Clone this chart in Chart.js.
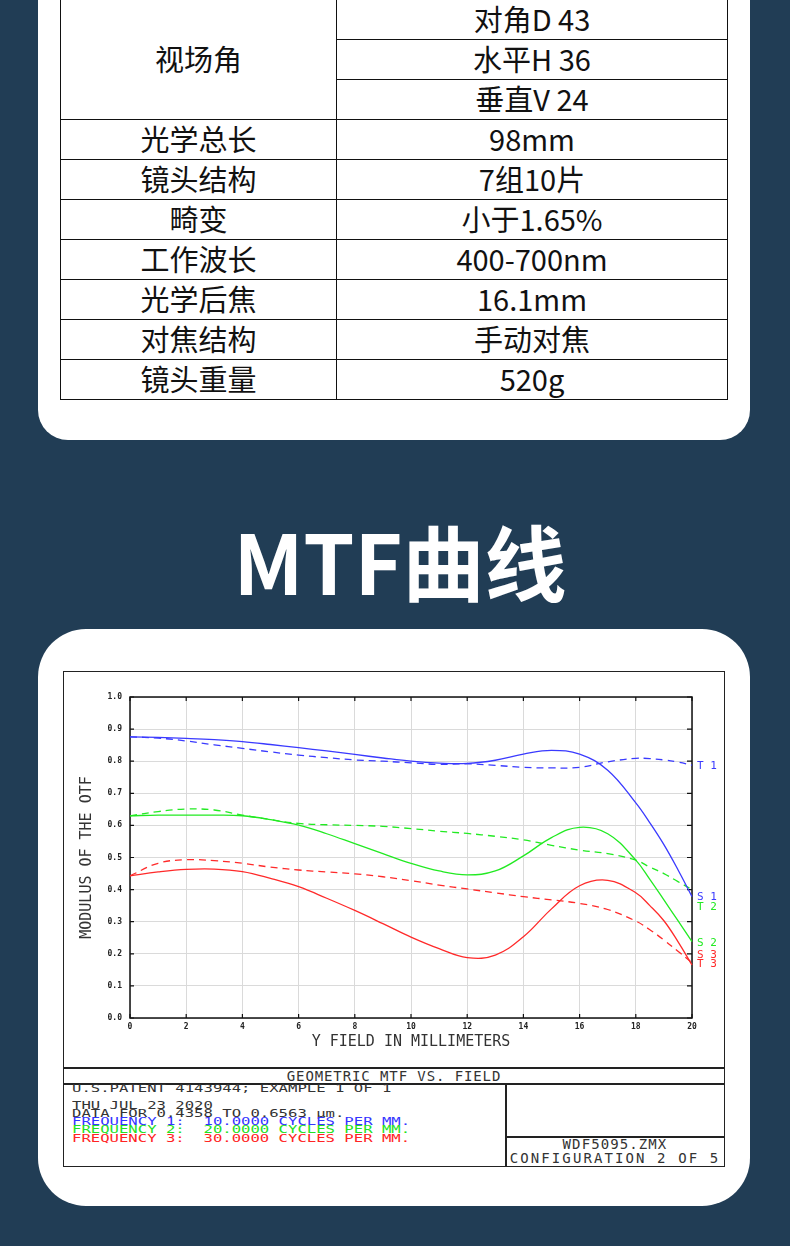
<!DOCTYPE html>
<html>
<head>
<meta charset="utf-8">
<script src="https://cdn.jsdelivr.net/npm/chart.js@4.4.1/dist/chart.umd.min.js"></script>
<style>
  body { margin: 0; width: 790px; height: 1246px; background: #213d55; position: relative; overflow: hidden; font-family: "Noto Sans CJK SC", sans-serif; }
  .card { position: absolute; left: 38px; width: 712px; background: #fff; }
  #card1 { top: -40px; height: 480px; border-radius: 30px; }
  #card2 { top: 629px; height: 577px; border-radius: 48px; }
  #specs { position: absolute; left: 60px; top: -1px; width: 667px; border-collapse: collapse; table-layout: fixed; }
  #specs td { border: 1px solid #111; height: 36px; padding: 0 0 3px 0; text-align: center; font-size: 29px; line-height: 32px; color: #111; }
  h1 { position: absolute; left: 0; width: 790px; top: 502px; margin: 0; text-align: center; color: #fff; font-size: 82px; font-weight: 700; line-height: 116px; padding-left: 10px; box-sizing: border-box; }
  #frame { position: absolute; left: 63px; top: 671px; width: 662px; height: 496px; border: 1.5px solid #222; box-sizing: border-box; }
  .ln { position: absolute; background: #222; }
  .mono { position: absolute; font-family: "DejaVu Sans Mono", monospace; color: #333; white-space: pre; }
  #info { left: 72px; top: 1085px; font-size: 10px; line-height: 8.3px; transform: scaleX(1.56); transform-origin: left top; }
  canvas { position: absolute; left: 64px; top: 672px; }
</style>
</head>
<body>
<div class="card" id="card1"></div>
<table id="specs"></table>
<h1>MTF曲线</h1>
<div class="card" id="card2"></div>
<div id="frame"></div>
<canvas id="mtf" width="660" height="395"></canvas>
<div class="ln" style="left:63px;top:1067px;width:662px;height:1.5px"></div>
<div class="ln" style="left:63px;top:1083px;width:662px;height:1.5px"></div>
<div class="ln" style="left:505px;top:1083px;width:1.5px;height:84px"></div>
<div class="ln" style="left:505px;top:1136px;width:220px;height:1.5px"></div>
<div class="mono" style="left:63px;width:662px;top:1068px;text-align:center;font-size:14px;line-height:16px;letter-spacing:0.9px">GEOMETRIC MTF VS. FIELD</div>
<div class="mono" id="info"></div>
<div class="mono" style="left:505px;width:220px;top:1137px;text-align:center;font-size:14px;line-height:15px;letter-spacing:1.1px">WDF5095.ZMX</div>
<div class="mono" style="left:505px;width:220px;top:1151px;text-align:center;font-size:14px;line-height:15px;letter-spacing:2.1px">CONFIGURATION 2 OF 5</div>
<script>
// spec table
const specNames = ["视场角", "光学总长", "镜头结构", "畸变", "工作波长", "光学后焦", "对焦结构", "镜头重量"];
const specValues = ["对角D 43", "水平H 36", "垂直V 24", "98mm", "7组10片", "小于1.65%", "400-700nm", "16.1mm", "手动对焦", "520g"];

// MTF data (Y field in mm)
const fieldMm = [0, 1, 2, 3, 4, 5, 6, 7, 8, 9, 10, 11, 12, 13, 14, 15, 16, 17, 18, 18.5, 19, 19.5, 20];
const mtfS1 = [0.876, 0.874, 0.871, 0.867, 0.861, 0.852, 0.842, 0.832, 0.821, 0.810, 0.800, 0.794, 0.793, 0.803, 0.822, 0.834, 0.822, 0.772, 0.670, 0.608, 0.540, 0.462, 0.378];
const mtfT1 = [0.876, 0.872, 0.863, 0.851, 0.840, 0.829, 0.819, 0.811, 0.804, 0.800, 0.795, 0.790, 0.792, 0.787, 0.781, 0.779, 0.781, 0.798, 0.809, 0.808, 0.804, 0.797, 0.788];
const mtfS2 = [0.630, 0.632, 0.632, 0.632, 0.630, 0.618, 0.601, 0.574, 0.543, 0.512, 0.482, 0.458, 0.446, 0.458, 0.505, 0.562, 0.594, 0.574, 0.492, 0.432, 0.368, 0.303, 0.238];
const mtfT2 = [0.630, 0.643, 0.651, 0.648, 0.632, 0.618, 0.606, 0.602, 0.600, 0.597, 0.590, 0.582, 0.575, 0.566, 0.555, 0.538, 0.523, 0.512, 0.492, 0.470, 0.450, 0.425, 0.400];
const mtfS3 = [0.443, 0.455, 0.463, 0.464, 0.456, 0.435, 0.409, 0.373, 0.335, 0.294, 0.252, 0.216, 0.188, 0.196, 0.253, 0.340, 0.412, 0.429, 0.390, 0.350, 0.303, 0.238, 0.165];
const mtfT3 = [0.443, 0.482, 0.493, 0.490, 0.482, 0.470, 0.461, 0.455, 0.449, 0.440, 0.428, 0.414, 0.402, 0.390, 0.378, 0.368, 0.357, 0.338, 0.302, 0.275, 0.243, 0.208, 0.172];

const endLabels = ["T 1", "S 1", "T 2", "S 2", "S 3", "T 3"];
const endLabelAt = [0.785, 0.377, 0.344, 0.234, 0.197, 0.168];

const infoLines = [
  ["U.S.PATENT 4143944; EXAMPLE 1 OF 1", "#333"],
  ["", "#333"],
  ["THU JUL 23 2020", "#333"],
  ["DATA FOR 0.4358 TO 0.6563 µm.", "#333"],
  ["FREQUENCY 1:  10.0000 CYCLES PER MM.", "#3535ff"],
  ["FREQUENCY 2:  20.0000 CYCLES PER MM.", "#22e022"],
  ["FREQUENCY 3:  30.0000 CYCLES PER MM.", "#ff2424"],
];

const blue = "#3a3aff", green = "#22ea22", red = "#ff2a2a";
const labelColors = { T1: blue, S1: blue, T2: green, S2: green, S3: red, T3: red };

// build table
const tbl = document.getElementById("specs");
tbl.innerHTML = '<colgroup><col style="width:276px"><col style="width:391px"></colgroup>';
for (let i = 0; i < specValues.length; i++) {
  const tr = document.createElement("tr");
  if (i === 0) {
    const td = document.createElement("td");
    td.rowSpan = 3;
    td.textContent = specNames[0];
    tr.appendChild(td);
  } else if (i >= 3) {
    const td = document.createElement("td");
    td.textContent = specNames[i - 2];
    tr.appendChild(td);
  }
  const tv = document.createElement("td");
  tv.textContent = specValues[i];
  tr.appendChild(tv);
  tbl.appendChild(tr);
}

document.getElementById("info").innerHTML = infoLines
  .map(l => `<div style="color:${l[1]};height:8.3px">${l[0]}</div>`).join("");

function pts(arr) {
  return fieldMm.map((x, i) => ({ x: x, y: arr[i] }));
}

function series(label, arr, color, dashed) {
  return {
    label: label,
    data: pts(arr),
    borderColor: color,
    borderWidth: 1.3,
    borderDash: dashed ? [7, 5] : [],
    pointRadius: 0,
    tension: 0.4,
    clip: 3,
  };
}

const plotFrame = {
  id: "plotFrame",
  beforeDatasetsDraw(chart) {
    const { ctx, chartArea: a, scales } = chart;
    const x = scales.x, y = scales.y;
    ctx.save();
    ctx.strokeStyle = "#111";
    ctx.lineWidth = 1.5;
    ctx.strokeRect(a.left, a.top, a.right - a.left, a.bottom - a.top);
    ctx.lineWidth = 1.2;
    ctx.beginPath();
    x.ticks.forEach(t => {
      const px = x.getPixelForValue(t.value);
      ctx.moveTo(px, a.top); ctx.lineTo(px, a.top + 4);
      ctx.moveTo(px, a.bottom); ctx.lineTo(px, a.bottom - 4);
    });
    y.ticks.forEach(t => {
      const py = y.getPixelForValue(t.value);
      ctx.moveTo(a.left, py); ctx.lineTo(a.left + 4, py);
      ctx.moveTo(a.right, py); ctx.lineTo(a.right - 5, py);
    });
    ctx.stroke();
    ctx.restore();
  },
  afterDatasetsDraw(chart) {
    const { ctx, chartArea: a, scales } = chart;
    ctx.save();
    ctx.font = "11px 'DejaVu Sans Mono'";
    ctx.textBaseline = "middle";
    endLabels.forEach((t, i) => {
      ctx.fillStyle = labelColors[t.replace(" ", "")];
      ctx.fillText(t, a.right + 5, scales.y.getPixelForValue(endLabelAt[i]));
    });
    ctx.restore();
  },
};

const tickFont = { family: "DejaVu Sans Mono", size: 8, weight: "bold" };
const titleFont = { family: "DejaVu Sans Mono", size: 15 };

new Chart(document.getElementById("mtf"), {
  type: "line",
  data: {
    datasets: [
      series("T1", mtfT1, blue, true),
      series("S1", mtfS1, blue, false),
      series("T2", mtfT2, green, true),
      series("S2", mtfS2, green, false),
      series("T3", mtfT3, red, true),
      series("S3", mtfS3, red, false),
    ],
  },
  plugins: [plotFrame],
  options: {
    responsive: false,
    animation: false,
    devicePixelRatio: 1,
    layout: { padding: { top: 25, right: 32, left: 10, bottom: 12 } },
    plugins: { legend: { display: false }, tooltip: { enabled: false } },
    scales: {
      x: {
        type: "linear",
        min: 0,
        max: 20,
        afterFit: s => { s.height = 37; },
        ticks: { stepSize: 2, padding: 4, color: "#222", font: tickFont, maxRotation: 0 },
        grid: { color: "#dadada", lineWidth: 1, drawTicks: false },
        border: { display: false },
        title: { display: true, text: "Y FIELD IN MILLIMETERS", color: "#333", font: titleFont, padding: { top: 0, bottom: 4 } },
      },
      y: {
        min: 0,
        max: 1,
        afterFit: s => { s.width = 56; },
        ticks: { stepSize: 0.1, padding: 8, color: "#222", font: tickFont, callback: v => v.toFixed(1) },
        grid: { color: "#dadada", lineWidth: 1, drawTicks: false },
        border: { display: false },
        title: { display: true, text: "MODULUS OF THE OTF", color: "#333", font: titleFont, padding: { top: 4, bottom: 0 } },
      },
    },
  },
});
</script>
</body>
</html>
